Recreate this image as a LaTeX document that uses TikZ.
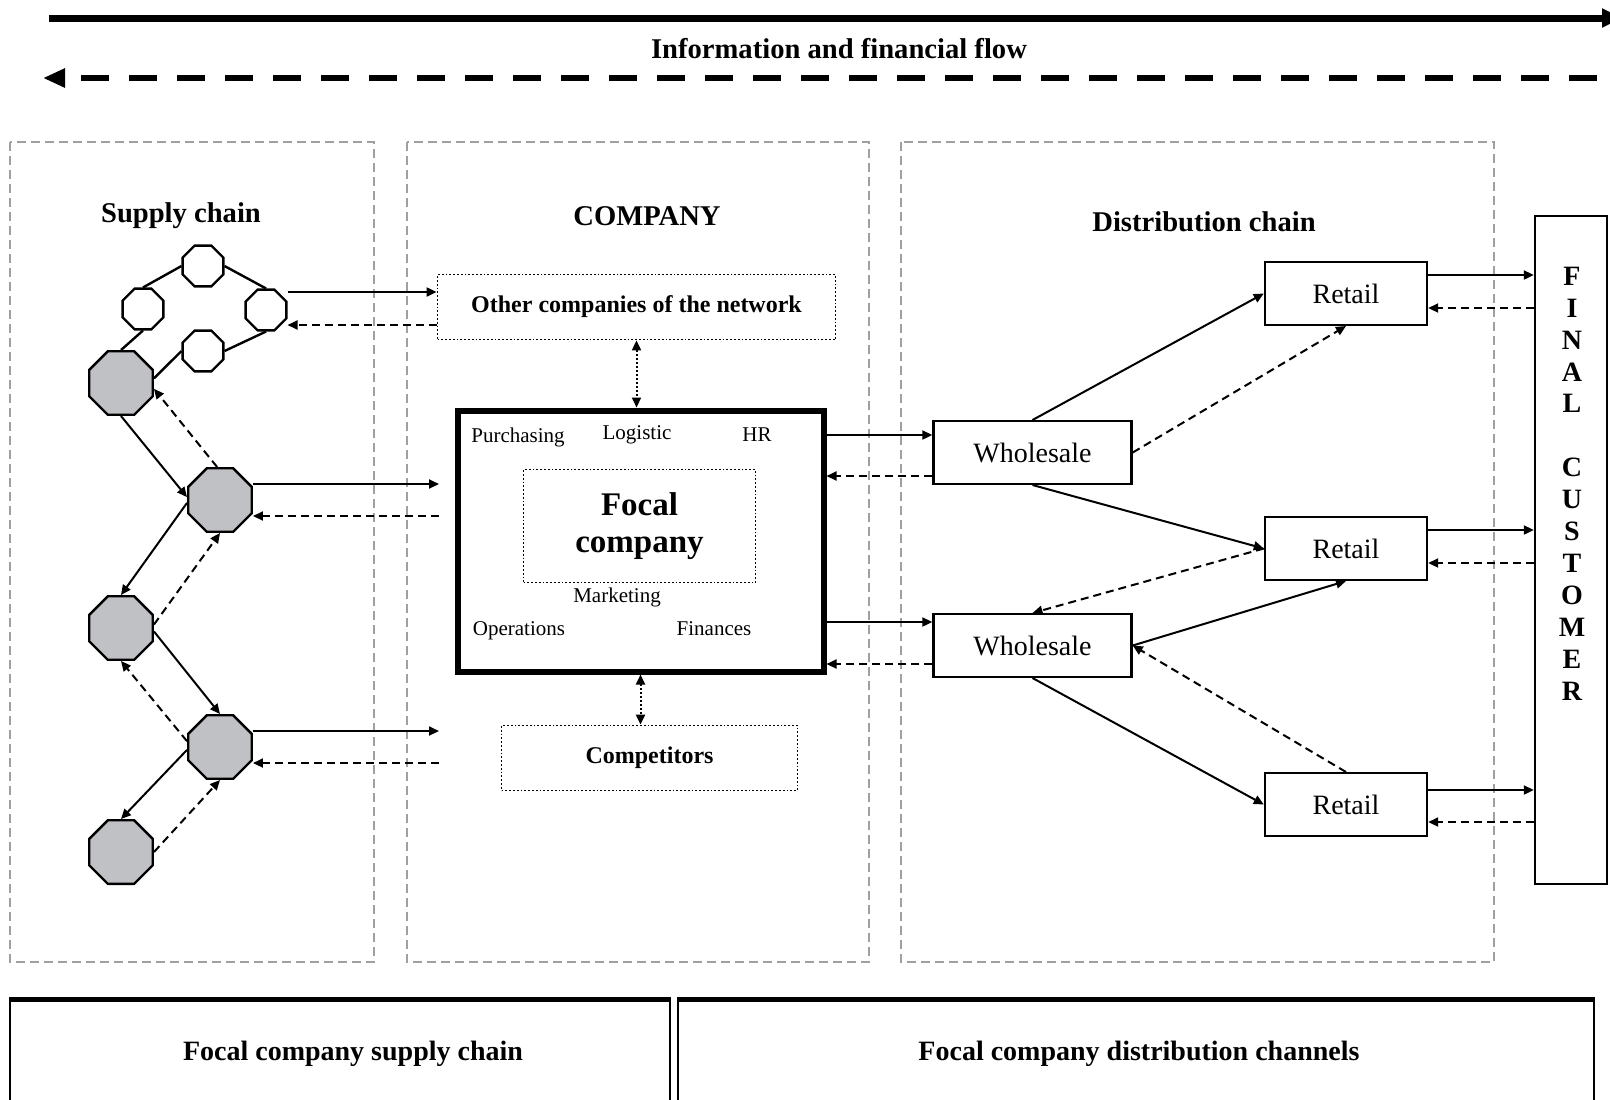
\documentclass[tikz,border=0pt]{standalone}
\usepackage{fontspec}
\setmainfont{Liberation Serif}
\usetikzlibrary{arrows.meta,shapes.geometric}
\definecolor{octgray}{RGB}{192,193,196}
\definecolor{framegray}{RGB}{160,160,160}
\tikzset{
  flow/.style={-{Triangle[length=5pt,width=4.5pt]}, line width=1pt},
  back/.style={flow, dash pattern=on 4pt off 2.5pt},
  both/.style={{Triangle[length=5pt,width=4.5pt]}-{Triangle[length=5pt,width=4.5pt]}, line width=1pt, densely dotted},
  link/.style={line width=1.2pt},
  frame/.style={draw=framegray, line width=1pt, dash pattern=on 4.5pt off 2.5pt},
  title/.style={font=\fontsize{14.3}{17}\selectfont\bfseries},
  func/.style={font=\fontsize{10.5}{12}\selectfont, inner sep=0pt},
  dotbox/.style={draw, densely dotted, line width=0.9pt, font=\fontsize{12}{14}\selectfont\bfseries},
  box/.style={draw, line width=1.2pt, fill=white, font=\fontsize{14}{16}\selectfont, minimum width=99pt, minimum height=31.3pt},
  rbox/.style={box, minimum width=81pt},
  soct/.style={regular polygon, regular polygon sides=8, draw, line width=1.2pt, fill=white, minimum size=22pt, inner sep=0pt},
  goct/.style={soct, fill=octgray, minimum size=34.4pt},
  basebox/.style={draw, line width=1.2pt, minimum height=55pt},
  basetext/.style={font=\fontsize{14}{16}\selectfont\bfseries}
}
\begin{document}
\begin{tikzpicture}[x=0.5pt,y=-0.5pt]
  \useasboundingbox (0,0) rectangle (1610,1099);
  % flows on top
  \coordinate (fs) at (49,18);
  \coordinate (fe) at (1622,18);
  \coordinate (bs) at (1597,78);
  \coordinate (be) at (43,78);
  \draw [line width=3.5pt, -{Triangle[length=10pt,width=9pt]}] (fs) -- (fe);
  \draw [line width=3pt, dash pattern=on 14pt off 10pt, -{Triangle[length=11pt,width=9pt]}] (bs) -- (be);
  \node [title] (flow) at (839,49) {Information and financial flow};

  % three areas
  \draw [frame] (10,142) rectangle (374,962);
  \draw [frame] (407,142) rectangle (869,962);
  \draw [frame] (901,142) rectangle (1494,962);
  \node [title] (tsup) at (181,216) {Supply chain};
  \node [title] (tcom) at (647,216) {COMPANY};
  \node [title] (tdis) at (1204,222) {Distribution chain};

  % supply chain
  \node [soct] (s1) at (203,266) {};
  \node [soct] (s2) at (143,309) {};
  \node [soct] (s3) at (266,310) {};
  \node [soct] (s4) at (203,351) {};
  \node [goct] (g1) at (121,383) {};
  \node [goct] (g2) at (220,500) {};
  \node [goct] (g3) at (121,628) {};
  \node [goct] (g4) at (220,747) {};
  \node [goct] (g5) at (121,852) {};
  \draw [link] (s2.north) -- (s1.west);
  \draw [link] (s1.east) -- (s3.north);
  \draw [link] (s3.south) -- (s4.east);
  \draw [link] (s2.south) -- (g1.north);
  \draw [link] (s4.west) -- (g1.8);
  \draw [flow] (g1.south) -- (g2.175);
  \draw [back] (g2.95) -- (g1.-10);
  \draw [flow] (g2.185) -- (g3.north);
  \draw [back] (g3.6) -- (g2.south);
  \draw [flow] (g3.-6) -- (g4.north);
  \draw [back] (g4.170) -- (g3.south);
  \draw [flow] (g4.185) -- (g5.north);
  \draw [back] (g5.east) -- (g4.south);

  % company
  \node [dotbox, minimum width=199pt, minimum height=32.5pt] (oc) at (636.5,307) {Other companies of the network};
  \node [draw, line width=3pt, minimum width=183pt, minimum height=130.5pt] (focal) at (640.5,541) {};
  \node [dotbox, align=center, font=\fontsize{16.5}{18.3}\selectfont\bfseries, minimum width=116pt, minimum height=56.5pt] (fc) at (639.5,526) {Focal\\company};
  \node [func] (purch) at (518,437) {Purchasing};
  \node [func] (logi) at (637,435) {Logistic};
  \node [func] (hr) at (757,435) {HR};
  \node [func] (mark) at (617,597) {Marketing};
  \node [func] (oper) at (519,631) {Operations};
  \node [func] (fin) at (714,629) {Finances};
  \node [dotbox, minimum width=148pt, minimum height=32.5pt] (comp) at (649.5,758) {Competitors};
  \draw [both] (oc.south) -- (oc.south |- focal.north);
  \draw [both] (focal.south) -- (focal.south |- comp.north);

  % supply side links
  \coordinate (a2) at (439,484);
  \coordinate (b2) at (439,516);
  \coordinate (a4) at (439,731);
  \coordinate (b4) at (439,763);
  \draw [flow] (s3.east |- 0,292) -- (oc.west |- 0,292);
  \draw [back] (oc.west |- 0,325) -- (s3.east |- 0,325);
  \draw [flow] (g2.east |- a2) -- (a2);
  \draw [back] (b2) -- (g2.east |- b2);
  \draw [flow] (g4.east |- a4) -- (a4);
  \draw [back] (b4) -- (g4.east |- b4);

  % distribution chain
  \node [box] (w1) at (1032.5,452.5) {Wholesale};
  \node [box] (w2) at (1032.5,645.5) {Wholesale};
  \node [rbox] (r1) at (1346,293.5) {Retail};
  \node [rbox] (r2) at (1346,548.5) {Retail};
  \node [rbox] (r3) at (1346,804.5) {Retail};
  \draw [flow] (focal.east |- 0,435) -- (w1.west |- 0,435);
  \draw [back] (w1.west |- 0,476) -- (focal.east |- 0,476);
  \draw [flow] (focal.east |- 0,622) -- (w2.west |- 0,622);
  \draw [back] (w2.west |- 0,664) -- (focal.east |- 0,664);
  \draw [flow] (w1.north) -- (r1.west);
  \draw [back] (w1.east) -- (r1.south);
  \draw [flow] (w1.south) -- (r2.west);
  \draw [back] (r2.west) -- (w2.north);
  \draw [flow] (w2.east) -- (r2.south);
  \draw [flow] (w2.south) -- (r3.west);
  \draw [back] (r3.north) -- (w2.east);

  % final customer
  \node [draw, line width=1.2pt, minimum width=36pt, minimum height=334pt] (cust) at (1571,550) {};
  \node [align=center, font=\fontsize{14}{15.95}\selectfont\bfseries] (fcl) at (1572,483.5) {F\\I\\N\\A\\L\\[15.95pt]C\\U\\S\\T\\O\\M\\E\\R};
  \draw [flow] (r1.east |- 0,275) -- (cust.west |- 0,275);
  \draw [back] (cust.west |- 0,308) -- (r1.east |- 0,308);
  \draw [flow] (r2.east |- 0,530) -- (cust.west |- 0,530);
  \draw [back] (cust.west |- 0,563) -- (r2.east |- 0,563);
  \draw [flow] (r3.east |- 0,790) -- (cust.west |- 0,790);
  \draw [back] (cust.west |- 0,822) -- (r3.east |- 0,822);

  % bottom
  \node [basebox, minimum width=330pt] (sc) at (340,1056) {};
  \node [basebox, minimum width=458pt] (dc) at (1136,1056) {};
  \draw [line width=2.4pt] (sc.north west) -- (sc.north east);
  \draw [line width=2.4pt] (dc.north west) -- (dc.north east);
  \node [basetext] (sct) at (353,1054) {Focal company supply chain};
  \node [basetext] (dct) at (1139,1054) {Focal company distribution channels};
\end{tikzpicture}
\end{document}
